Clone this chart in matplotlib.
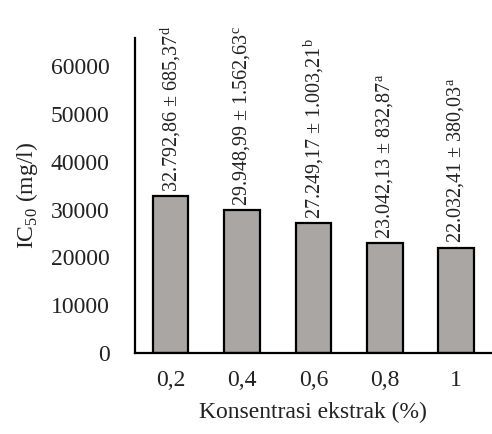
import matplotlib.pyplot as plt

# IC50 per konsentrasi ekstrak
konsentrasi = ['0,2', '0,4', '0,6', '0,8', '1']
ic50 = [32792.86, 29948.99, 27249.17, 23042.13, 22032.41]
sd = [685.37, 1562.63, 1003.21, 832.87, 380.03]
notasi = ['d', 'c', 'b', 'a', 'a']
label_nilai = ['32.792,86', '29.948,99', '27.249,17', '23.042,13', '22.032,41']
label_sd = ['685,37', '1.562,63', '1.003,21', '832,87', '380,03']

plt.rcParams['font.family'] = ['Liberation Serif', 'DejaVu Serif']
plt.rcParams['mathtext.fontset'] = 'custom'
plt.rcParams['mathtext.rm'] = 'Liberation Serif'

fig = plt.figure(figsize=(4.92, 4.34), dpi=100)
ax = fig.add_axes([0.274, 0.187, 0.726, 0.726])

x = range(len(konsentrasi))
ax.bar(x, ic50, width=0.5, color='#a9a6a4', edgecolor='black', linewidth=1.6)

for i in x:
    teks = label_nilai[i] + ' \u00b1 ' + label_sd[i] + '$^{\\mathrm{' + notasi[i] + '}}$'
    ax.annotate(teks, (i, ic50[i]), xytext=(0, 3), textcoords='offset points',
                rotation=90, ha='center', va='bottom', fontsize=14.5, color='#222222')

ax.set_xlim(-0.5, 4.5)
ax.set_ylim(0, 66000)
ax.set_yticks(range(0, 60001, 10000))
ax.set_xticks(list(x))
ax.set_xticklabels(konsentrasi)
ax.tick_params(length=0, labelsize=17, pad=18, colors='#222222')
ax.tick_params(axis='x', pad=12)

for s in ['top', 'right']:
    ax.spines[s].set_visible(False)
ax.spines['left'].set_linewidth(1.6)
ax.spines['bottom'].set_linewidth(1.6)

ax.set_ylabel('IC$_{50}$ (mg/l)', fontsize=17, color='#222222', labelpad=8)
ax.set_xlabel('Konsentrasi ekstrak (%)', fontsize=17, color='#222222', labelpad=8)

fig.savefig('out.png', dpi=100)
